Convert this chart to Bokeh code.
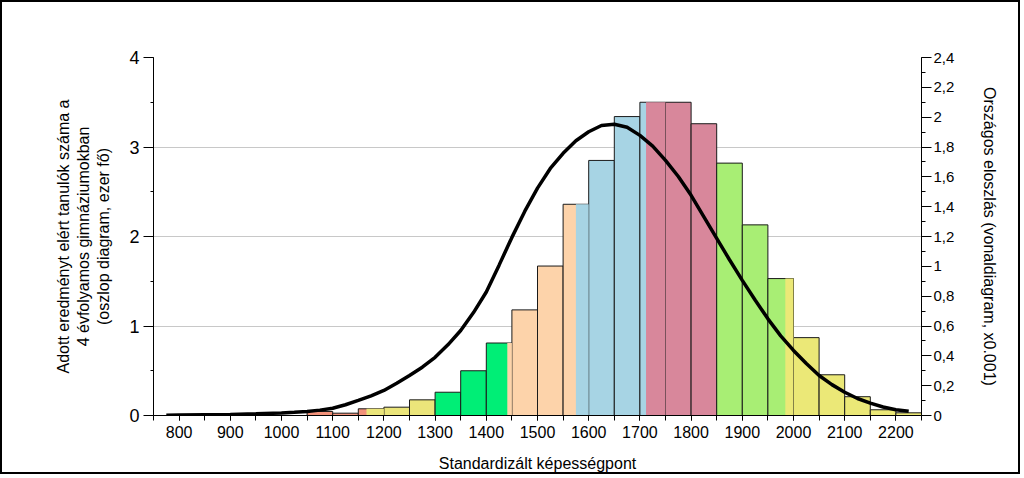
from bokeh.plotting import figure
from bokeh.models import (Range1d, LinearAxis, SingleIntervalTicker,
                          CustomJSTickFormatter)
from bokeh.embed import file_html
from bokeh.resources import INLINE

# ---------------- data ----------------
bin_start = [1050, 1100, 1150, 1200, 1250, 1300, 1350, 1400, 1450, 1500,
             1550, 1600, 1650, 1700, 1750, 1800, 1850, 1900, 1950, 2000,
             2050, 2100, 2150, 2200]
bin_width = 50
counts = [0.045, 0.026, 0.075, 0.093, 0.175, 0.26, 0.50, 0.81, 1.18, 1.67,
          2.36, 2.85, 3.34, 3.50, 3.50, 3.26, 2.82, 2.13, 1.53, 0.87,
          0.455, 0.21, 0.064, 0.03]

level_edges = [1050, 1166, 1300, 1441, 1575, 1712, 1850, 1984, 2250]
level_colors = ["#F2927A", "#EBE57A", "#00EE76", "#FDD3AA", "#A7D4E4",
                "#D8879B", "#A8EE74", "#EBE877"]

curve_x = [775, 800, 850, 900, 950, 1000, 1025, 1050, 1075, 1100, 1125,
           1150, 1175, 1200, 1225, 1250, 1275, 1300, 1325, 1350, 1375,
           1400, 1425, 1450, 1475, 1500, 1525, 1550, 1575, 1600, 1625,
           1650, 1675, 1700, 1725, 1750, 1775, 1800, 1825, 1850, 1875,
           1900, 1925, 1950, 1975, 2000, 2025, 2050, 2075, 2100, 2125,
           2150, 2175, 2200, 2225]
curve_y = [0.002, 0.003, 0.005, 0.007, 0.011, 0.016, 0.021, 0.027, 0.036,
           0.049, 0.072, 0.101, 0.132, 0.168, 0.216, 0.268, 0.324, 0.39,
           0.474, 0.57, 0.69, 0.828, 1.008, 1.194, 1.368, 1.524, 1.656,
           1.758, 1.842, 1.902, 1.944, 1.953, 1.932, 1.878, 1.806, 1.71,
           1.602, 1.476, 1.332, 1.188, 1.044, 0.906, 0.774, 0.648, 0.534,
           0.436, 0.348, 0.268, 0.207, 0.156, 0.114, 0.083, 0.057, 0.039,
           0.029]

x_title = "Standardizált képességpont"
left_title = ("Adott eredményt elért tanulók száma a\n"
              "4 évfolyamos gimnáziumokban\n(oszlop diagram, ezer fő)")
right_title = "Országos eloszlás (vonaldiagram, x0.001)"


def level_of(v):
    for i in range(len(level_edges) - 1):
        if level_edges[i] <= v < level_edges[i + 1]:
            return i
    return len(level_colors) - 1


# main bars
lefts = bin_start
rights = [b + bin_width for b in bin_start]
fills = [level_colors[level_of(b)] for b in bin_start]

# overlays where a level boundary falls inside a bin
ov_l, ov_r, ov_t, ov_c = [], [], [], []
for b, h in zip(bin_start, counts):
    e = b + bin_width
    for j, edge in enumerate(level_edges[1:-1], start=1):
        if b < edge < e:
            ov_l.append(edge)
            ov_r.append(e)
            ov_t.append(h)
            ov_c.append(level_colors[j])

FONT = "Liberation Sans"
W, H = 1020, 474

p = figure(width=W, height=H, x_range=Range1d(750, 2250),
           y_range=Range1d(0, 4), output_backend="svg",
           toolbar_location=None, min_border_left=151,
           min_border_right=101, min_border_top=55, min_border_bottom=61)
p.extra_y_ranges = {"right": Range1d(0, 2.400001)}
p.outline_line_color = None
p.background_fill_color = "white"
p.border_fill_color = "white"
p.styles = {"border": "2px solid black"}

p.quad(left=lefts, right=rights, bottom=0, top=counts, fill_color=fills,
       line_color="#1a1a1a", line_width=1)
p.quad(left=ov_l, right=ov_r, bottom=0, top=ov_t, fill_color=ov_c,
       line_color=None)
p.line(curve_x, curve_y, y_range_name="right", line_color="black",
       line_width=3.5)

# x axis
xa = p.xaxis[0]
xa.ticker = SingleIntervalTicker(interval=100, num_minor_ticks=2)
xa.axis_label = x_title
xa.major_tick_out = 5
xa.major_tick_in = 0
xa.minor_tick_out = 5
xa.minor_tick_in = 0
xa.major_label_text_font_size = "16px"
xa.major_label_text_font = FONT
xa.major_label_text_color = "black"
xa.major_label_standoff = 5
xa.axis_label_text_font = FONT
xa.axis_label_text_font_size = "16px"
xa.axis_label_text_font_style = "normal"
xa.axis_label_text_color = "black"
xa.axis_label_standoff = 14
xa.axis_line_color = "black"
xa.major_tick_line_color = "black"
xa.minor_tick_line_color = "black"

# left y axis
ya = p.yaxis[0]
ya.ticker = SingleIntervalTicker(interval=1, num_minor_ticks=2)
ya.axis_label = left_title
ya.major_tick_out = 10
ya.major_tick_in = 0
ya.minor_tick_out = 3
ya.minor_tick_in = 0
ya.major_label_text_font_size = "18px"
ya.major_label_text_font = FONT
ya.major_label_text_color = "black"
ya.major_label_standoff = 4
ya.axis_label_text_font = FONT
ya.axis_label_text_font_size = "16px"
ya.axis_label_text_font_style = "normal"
ya.axis_label_text_color = "black"
ya.axis_label_standoff = 14
ya.axis_line_color = "black"
ya.major_tick_line_color = "black"
ya.minor_tick_line_color = "black"

p.ygrid.ticker = ya.ticker
p.ygrid.grid_line_color = "#C8C8C8"
p.xgrid.visible = False

# right y axis
ra = LinearAxis(y_range_name="right",
                ticker=SingleIntervalTicker(interval=0.2, num_minor_ticks=2),
                formatter=CustomJSTickFormatter(code="""
                    var s = (Math.round(tick * 10) / 10).toString();
                    return s.replace('.', ',');
                """))
ra.axis_label = right_title
ra.major_tick_out = 10
ra.major_tick_in = 0
ra.minor_tick_out = 4
ra.minor_tick_in = 0
ra.major_label_text_font_size = "15px"
ra.major_label_text_font = FONT
ra.major_label_text_color = "black"
ra.major_label_standoff = 2
ra.axis_label_text_font = FONT
ra.axis_label_text_font_size = "16px"
ra.axis_label_text_font_style = "normal"
ra.axis_label_text_color = "black"
ra.axis_label_standoff = 24
ra.axis_line_color = "black"
ra.major_tick_line_color = "black"
ra.minor_tick_line_color = "black"
p.add_layout(ra, "right")

open("out.html", "w").write(file_html(p, INLINE))
